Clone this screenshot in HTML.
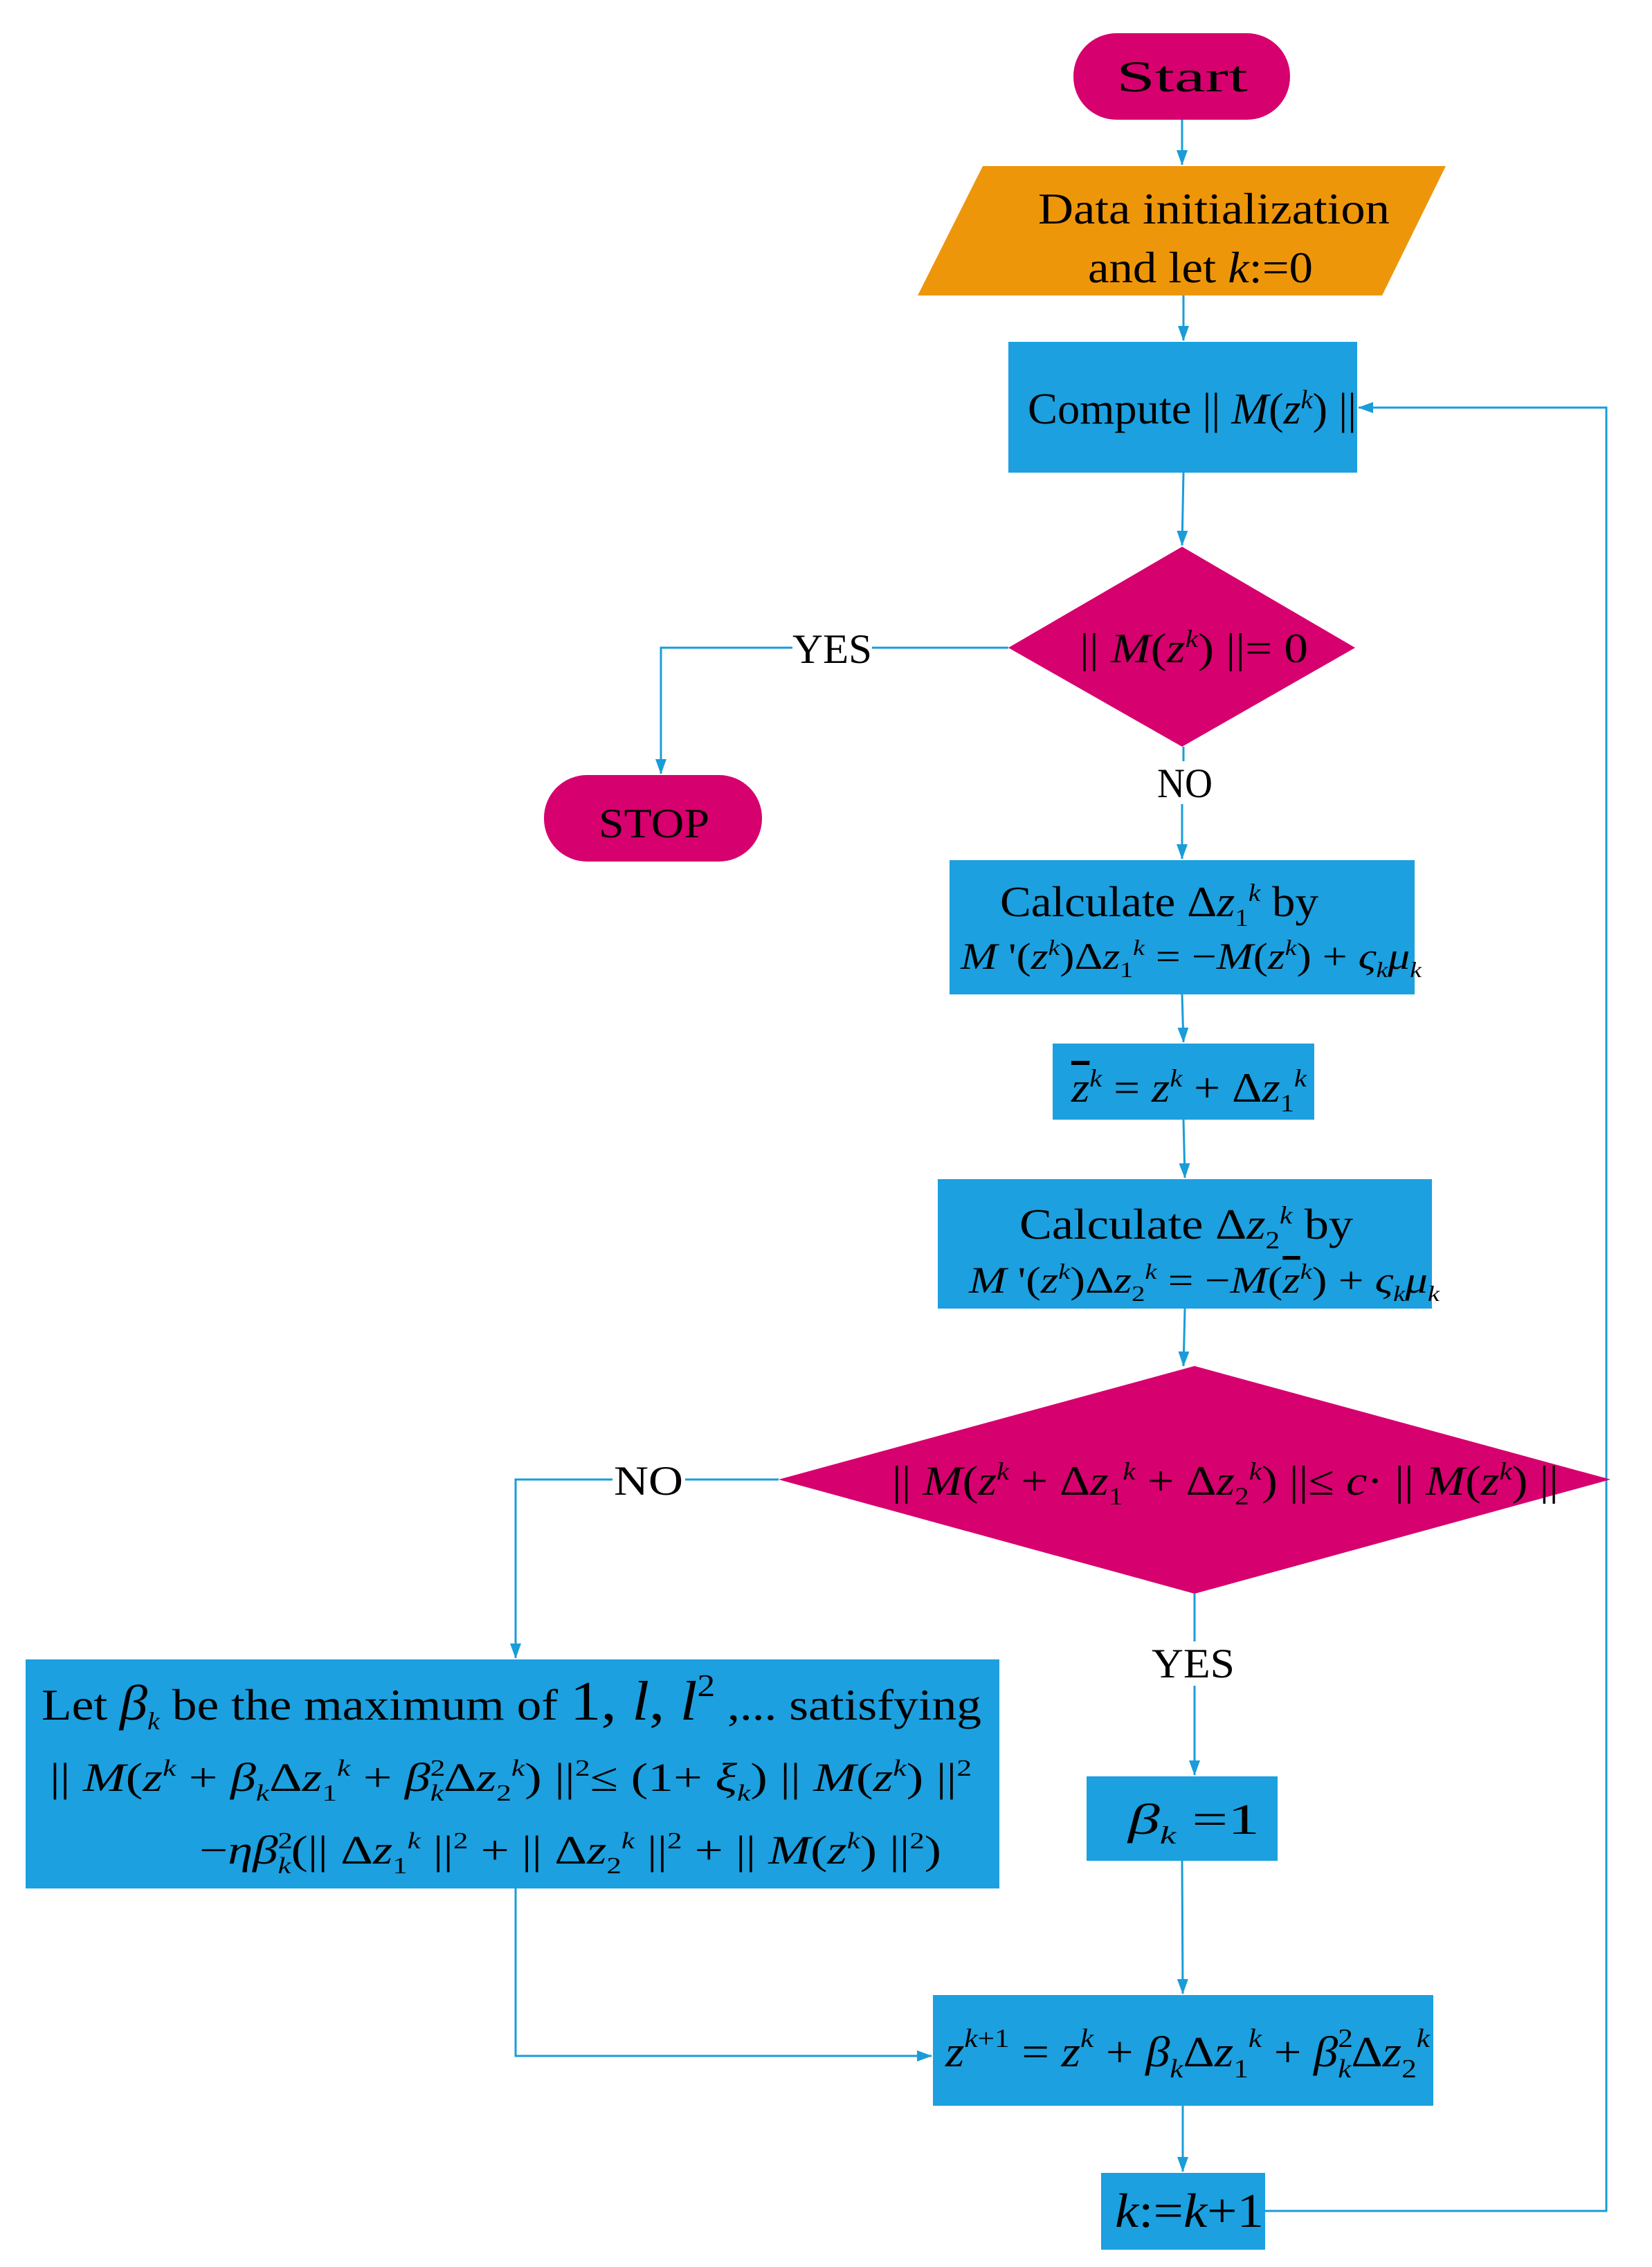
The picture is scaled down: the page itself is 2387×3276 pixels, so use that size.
<!DOCTYPE html>
<html><head><meta charset="utf-8"><style>
html,body{margin:0;padding:0;background:#fff;}
svg{display:block;}
text{font-family:"Liberation Serif",serif;fill:#000;}
.i{font-style:italic;}
</style></head><body>
<svg width="2387" height="3276" viewBox="0 0 2387 3276" xmlns="http://www.w3.org/2000/svg">
<defs>
<marker id="a" markerWidth="22" markerHeight="16" refX="21" refY="8" orient="auto" markerUnits="userSpaceOnUse">
<path d="M0,0 L22,8 L0,16 Z" fill="#1A9CD8"/></marker>
</defs>
<g stroke="#1A9CD8" stroke-width="3" fill="none">
<line x1="1708" y1="173" x2="1708" y2="238" marker-end="url(#a)"/>
<line x1="1710" y1="427" x2="1710" y2="492" marker-end="url(#a)"/>
<line x1="1710" y1="683" x2="1708" y2="788" marker-end="url(#a)"/>
<polyline points="1457,936 1260,936"/>
<polyline points="1145,936 955,936 955,1118" marker-end="url(#a)"/>
<line x1="1710" y1="1079" x2="1710" y2="1100"/>
<line x1="1708" y1="1162" x2="1708" y2="1241" marker-end="url(#a)"/>
<line x1="1708" y1="1437" x2="1710" y2="1506" marker-end="url(#a)"/>
<line x1="1710" y1="1618" x2="1712" y2="1702" marker-end="url(#a)"/>
<line x1="1712" y1="1891" x2="1710" y2="1974" marker-end="url(#a)"/>
<polyline points="1125,2138 990,2138"/>
<polyline points="885,2138 745,2138 745,2396" marker-end="url(#a)"/>
<line x1="1726" y1="2303" x2="1726" y2="2372"/>
<line x1="1726" y1="2436" x2="1726" y2="2565" marker-end="url(#a)"/>
<line x1="1708" y1="2689" x2="1709" y2="2881" marker-end="url(#a)"/>
<polyline points="745,2729 745,2971 1346,2971" marker-end="url(#a)"/>
<line x1="1709" y1="3043" x2="1709" y2="3138" marker-end="url(#a)"/>
<polyline points="1828,3195 2321,3195 2321,589 1963,589" marker-end="url(#a)"/>
</g>
<!-- shapes -->
<rect x="1551" y="48" width="313" height="125" rx="62" fill="#D6006E"/>
<polygon points="1420,240 2089,240 1997,427 1326,427" fill="#EE960A"/>
<rect x="1457" y="494" width="504" height="189" fill="#1CA0DF"/>
<polygon points="1708,790 1958,936 1708,1079 1457,936" fill="#D6006E"/>
<rect x="786" y="1120" width="315" height="125" rx="62" fill="#D6006E"/>
<rect x="1372" y="1243" width="672" height="194" fill="#1CA0DF"/>
<rect x="1521" y="1508" width="378" height="110" fill="#1CA0DF"/>
<rect x="1355" y="1704" width="714" height="187" fill="#1CA0DF"/>
<polygon points="1726,1974 2327,2138 1726,2303 1125,2138" fill="#D6006E"/>
<rect x="37" y="2398" width="1407" height="331" fill="#1CA0DF"/>
<rect x="1570" y="2567" width="276" height="122" fill="#1CA0DF"/>
<rect x="1348" y="2883" width="723" height="160" fill="#1CA0DF"/>
<rect x="1591" y="3140" width="237" height="111" fill="#1CA0DF"/>
<!-- text -->
<text x="1613" y="132" font-size="64" textLength="190" lengthAdjust="spacingAndGlyphs">Start</text>
<text x="1500" y="323" font-size="64" textLength="508" lengthAdjust="spacingAndGlyphs">Data initialization</text>
<text x="1572" y="408" font-size="64" textLength="325" lengthAdjust="spacingAndGlyphs">and let <tspan class="i">k</tspan>:=0</text>
<text x="1485" y="612" font-size="64" textLength="475" lengthAdjust="spacingAndGlyphs">Compute || <tspan class="i">M</tspan>(<tspan class="i">z</tspan><tspan class="i" dy="-22" font-size="38">k</tspan><tspan dy="22">) ||</tspan></text>
<text x="1560" y="957" font-size="60" textLength="330" lengthAdjust="spacingAndGlyphs">|| <tspan class="i">M</tspan>(<tspan class="i">z</tspan><tspan class="i" dy="-22" font-size="36">k</tspan><tspan dy="22">) ||= 0</tspan></text>
<text x="1145" y="958" font-size="60" textLength="115" lengthAdjust="spacingAndGlyphs">YES</text>
<text x="865" y="1210" font-size="60" textLength="160" lengthAdjust="spacingAndGlyphs">STOP</text>
<text x="1672" y="1152" font-size="60" textLength="80" lengthAdjust="spacingAndGlyphs">NO</text>
<text x="1445" y="1324" font-size="62" textLength="460" lengthAdjust="spacingAndGlyphs">Calculate Δ<tspan class="i">z</tspan><tspan dy="14" font-size="36">1</tspan><tspan class="i" dy="-36" font-size="36">k</tspan><tspan dy="22"> by</tspan></text>
<text x="1388" y="1400" font-size="54" textLength="666" lengthAdjust="spacingAndGlyphs"><tspan class="i">M</tspan> '(<tspan class="i">z</tspan><tspan class="i" dy="-20" font-size="32">k</tspan><tspan dy="20">)Δ</tspan><tspan class="i">z</tspan><tspan dy="12" font-size="32">1</tspan><tspan class="i" dy="-32" font-size="32">k</tspan><tspan dy="20"> = −</tspan><tspan class="i">M</tspan>(<tspan class="i">z</tspan><tspan class="i" dy="-20" font-size="32">k</tspan><tspan dy="20">) + </tspan><tspan class="i">ς</tspan><tspan class="i" dy="12" font-size="32">k</tspan><tspan class="i" dy="-12">μ</tspan><tspan class="i" dy="12" font-size="32">k</tspan></text>
<text x="1548" y="1592" font-size="60" textLength="340" lengthAdjust="spacingAndGlyphs"><tspan class="i" text-decoration="overline">z</tspan><tspan class="i" dy="-22" font-size="36">k</tspan><tspan dy="22"> = </tspan><tspan class="i">z</tspan><tspan class="i" dy="-22" font-size="36">k</tspan><tspan dy="22"> + Δ</tspan><tspan class="i">z</tspan><tspan dy="14" font-size="36">1</tspan><tspan class="i" dy="-36" font-size="36">k</tspan></text>
<text x="1473" y="1790" font-size="62" textLength="482" lengthAdjust="spacingAndGlyphs">Calculate Δ<tspan class="i">z</tspan><tspan dy="14" font-size="36">2</tspan><tspan class="i" dy="-36" font-size="36">k</tspan><tspan dy="22">  by</tspan></text>
<text x="1400" y="1868" font-size="54" textLength="680" lengthAdjust="spacingAndGlyphs"><tspan class="i">M</tspan> '(<tspan class="i">z</tspan><tspan class="i" dy="-20" font-size="32">k</tspan><tspan dy="20">)Δ</tspan><tspan class="i">z</tspan><tspan dy="12" font-size="32">2</tspan><tspan class="i" dy="-32" font-size="32">k</tspan><tspan dy="20"> = −</tspan><tspan class="i">M</tspan>(<tspan class="i" text-decoration="overline">z</tspan><tspan class="i" dy="-20" font-size="32">k</tspan><tspan dy="20">) + </tspan><tspan class="i">ς</tspan><tspan class="i" dy="12" font-size="32">k</tspan><tspan class="i" dy="-12">μ</tspan><tspan class="i" dy="12" font-size="32">k</tspan></text>
<text x="1289" y="2160" font-size="60" textLength="963" lengthAdjust="spacingAndGlyphs">|| <tspan class="i">M</tspan>(<tspan class="i">z</tspan><tspan class="i" dy="-22" font-size="36">k</tspan><tspan dy="22"> + Δ</tspan><tspan class="i">z</tspan><tspan dy="14" font-size="36">1</tspan><tspan class="i" dy="-36" font-size="36">k</tspan><tspan dy="22"> + Δ</tspan><tspan class="i">z</tspan><tspan dy="14" font-size="36">2</tspan><tspan class="i" dy="-36" font-size="36">k</tspan><tspan dy="22">) ||≤ </tspan><tspan class="i">c</tspan>· || <tspan class="i">M</tspan>(<tspan class="i">z</tspan><tspan class="i" dy="-22" font-size="36">k</tspan><tspan dy="22">) ||</tspan></text>
<text x="887" y="2160" font-size="60" textLength="100" lengthAdjust="spacingAndGlyphs">NO</text>
<text x="1664" y="2424" font-size="60" textLength="120" lengthAdjust="spacingAndGlyphs">YES</text>
<text x="60" y="2485" font-size="64" textLength="1358" lengthAdjust="spacingAndGlyphs">Let <tspan class="i" font-size="72">β</tspan><tspan class="i" dy="14" font-size="36">k</tspan><tspan dy="-14"> be the maximum of </tspan><tspan font-size="80">1, </tspan><tspan class="i" font-size="80">l</tspan><tspan font-size="80">, </tspan><tspan class="i" font-size="80">l</tspan><tspan dy="-34" font-size="46">2</tspan><tspan dy="34"> ,... satisfying</tspan></text>
<text x="72" y="2588" font-size="58" textLength="1332" lengthAdjust="spacingAndGlyphs">|| <tspan class="i">M</tspan>(<tspan class="i">z</tspan><tspan class="i" dy="-22" font-size="34">k</tspan><tspan dy="22"> + </tspan><tspan class="i">β</tspan><tspan class="i" dy="14" font-size="34">k</tspan><tspan dy="-14">Δ</tspan><tspan class="i">z</tspan><tspan dy="14" font-size="34">1</tspan><tspan class="i" dy="-36" font-size="34">k</tspan><tspan dy="22"> + </tspan><tspan class="i">β</tspan><tspan dy="-22" font-size="34">2</tspan><tspan class="i" dx="-17" dy="36" font-size="34">k</tspan><tspan dy="-14">Δ</tspan><tspan class="i">z</tspan><tspan dy="14" font-size="34">2</tspan><tspan class="i" dy="-36" font-size="34">k</tspan><tspan dy="22">) ||</tspan><tspan dy="-22" font-size="34">2</tspan><tspan dy="22">≤ (1+ </tspan><tspan class="i">ξ</tspan><tspan class="i" dy="14" font-size="34">k</tspan><tspan dy="-14">) || </tspan><tspan class="i">M</tspan>(<tspan class="i">z</tspan><tspan class="i" dy="-22" font-size="34">k</tspan><tspan dy="22">) ||</tspan><tspan dy="-22" font-size="34">2</tspan></text>
<text x="288" y="2693" font-size="58" textLength="1072" lengthAdjust="spacingAndGlyphs">−<tspan class="i">ηβ</tspan><tspan dy="-22" font-size="34">2</tspan><tspan class="i" dx="-17" dy="36" font-size="34">k</tspan><tspan dy="-14">(|| Δ</tspan><tspan class="i">z</tspan><tspan dy="14" font-size="34">1</tspan><tspan class="i" dy="-36" font-size="34">k</tspan><tspan dy="22"> ||</tspan><tspan dy="-22" font-size="34">2</tspan><tspan dy="22"> + || Δ</tspan><tspan class="i">z</tspan><tspan dy="14" font-size="34">2</tspan><tspan class="i" dy="-36" font-size="34">k</tspan><tspan dy="22"> ||</tspan><tspan dy="-22" font-size="34">2</tspan><tspan dy="22"> + || </tspan><tspan class="i">M</tspan>(<tspan class="i">z</tspan><tspan class="i" dy="-22" font-size="34">k</tspan><tspan dy="22">) ||</tspan><tspan dy="-22" font-size="34">2</tspan><tspan dy="22">)</tspan></text>
<text x="1630" y="2650" font-size="62" textLength="190" lengthAdjust="spacingAndGlyphs"><tspan class="i">β</tspan><tspan class="i" dy="14" font-size="36">k</tspan><tspan dy="-14"> =1</tspan></text>
<text x="1366" y="2986" font-size="62" textLength="700" lengthAdjust="spacingAndGlyphs"><tspan class="i">z</tspan><tspan class="i" dy="-28" font-size="38">k</tspan><tspan font-size="38">+1</tspan><tspan dy="28"> = </tspan><tspan class="i">z</tspan><tspan class="i" dy="-28" font-size="38">k</tspan><tspan dy="28"> + </tspan><tspan class="i">β</tspan><tspan class="i" dy="16" font-size="38">k</tspan><tspan dy="-16">Δ</tspan><tspan class="i">z</tspan><tspan dy="16" font-size="38">1</tspan><tspan class="i" dy="-44" font-size="38">k</tspan><tspan dy="28"> + </tspan><tspan class="i">β</tspan><tspan dy="-28" font-size="38">2</tspan><tspan class="i" dx="-19" dy="44" font-size="38">k</tspan><tspan dy="-16">Δ</tspan><tspan class="i">z</tspan><tspan dy="16" font-size="38">2</tspan><tspan class="i" dy="-44" font-size="38">k</tspan></text>
<text x="1611" y="3218" font-size="70" textLength="215" lengthAdjust="spacingAndGlyphs"><tspan class="i">k</tspan>:=<tspan class="i">k</tspan>+1</text>
</svg>
</body></html>
